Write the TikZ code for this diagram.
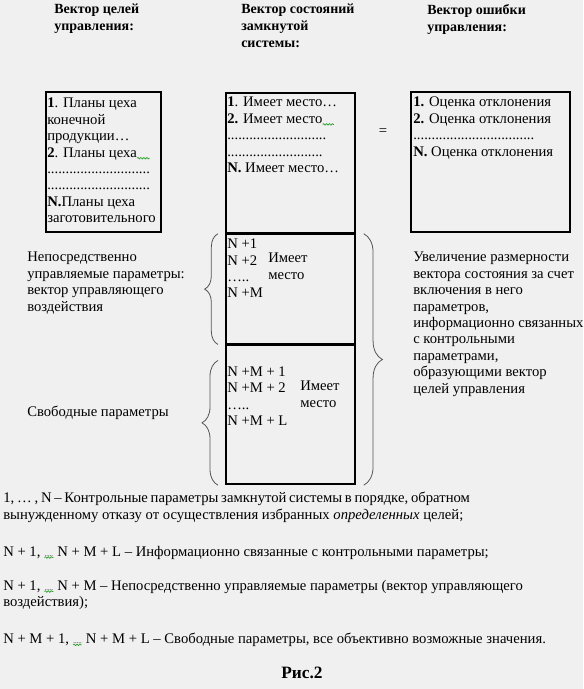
\documentclass[tikz,border=0pt]{standalone}
\usepackage{fontspec}
\setmainfont{Liberation Serif}
\usetikzlibrary{positioning,calc,backgrounds,decorations.pathreplacing,decorations.pathmorphing}
\definecolor{pagegray}{RGB}{240,240,240}
\definecolor{bracegray}{RGB}{85,85,85}
\definecolor{spellgreen}{RGB}{40,160,40}
\newcommand{\bodyfont}{\fontsize{11}{12.3}\selectfont}
\newcommand{\typo}[1]{\tikz[baseline=0pt]{\node[inner sep=0pt, anchor=base west, font=\tiny] (wave) {#1};
  \draw[spellgreen, line width=0.5pt, decorate, decoration={snake, amplitude=0.6pt, segment length=2.2pt}] ([yshift=-0.8pt]wave.base west) -- ([yshift=-0.8pt]wave.base east);}}
\tikzset{
  cell/.style={draw, line width=1.3pt, inner sep=0pt, anchor=north west},
  txt/.style={inner sep=0pt, anchor=north west, align=left, font=\bodyfont},
  head/.style={txt, font=\fontsize{10.5}{12.75}\selectfont\bfseries},
  curly/.style={decorate, decoration={brace, amplitude=#1}, draw=bracegray, line width=0.6pt},
}
\begin{document}
\begin{tikzpicture}[x=0.75pt, y=-0.75pt]
  \useasboundingbox[fill=pagegray] (0,0) rectangle (583,689);

  % column headers
  \node[head] (goalhead) at (54,4) {Вектор целей\\управления:};
  \node[head] (statehead) at (241,4) {Вектор состояний\\замкнутой\\системы:};
  \node[head] (errhead) at (427,4) {Вектор ошибки\\управления:};

  % boxes
  \node[cell, minimum width=86.25pt, minimum height=105pt] (goalbox) at (45,91) {};
  \node[cell, minimum width=96.75pt, minimum height=105pt] (statetop) at (225,92) {};
  \node[cell, minimum width=96.75pt, minimum height=81.75pt] (statemid) at (statetop.south west) {};
  \node[cell, minimum width=96.75pt, minimum height=104.25pt] (statebot) at (statemid.south west) {};
  \node[cell, minimum width=119.25pt, minimum height=105pt] (errbox) at (410,91) {};

  % box contents
  \node[txt, below right=5.25pt and 1.5pt of goalbox.north west] (goaltext) {\textbf{1}. Планы цеха\\конечной\\продукции…\\\textbf{2}. Планы цеха\typo{\hspace{9pt}}\\............................\\............................\\\textbf{N.}Планы цеха\\заготовительного};
  \node[txt, below right=3.75pt and 1.5pt of statetop.north west] (toptext) {\textbf{1}. Имеет место…\\\textbf{2.} Имеет место\typo{\hspace{8pt}}\\...........................\\..........................\\\textbf{N.} Имеет место…};
  \node[txt, below right=4.5pt and 2.25pt of errbox.north west] (errtext) {\textbf{1.} Оценка отклонения\\\textbf{2.} Оценка отклонения\\.................................\\\textbf{N.} Оценка отклонения};
  \node[txt, anchor=center] (eqsign) at (383,132) {=};

  \node[txt, below right=3.75pt and 1.5pt of statemid.north west] (midlist) {N +1\\N +2\\…..\\N +M};
  \node[txt] (midnote) at (268,253) {Имеет\\место};
  \node[txt, below right=16.5pt and 1.5pt of statebot.north west] (botlist) {N +M + 1\\N +M + 2\\…..\\N +M + L};
  \node[txt] (botnote) at (300,381) {Имеет\\место};

  % side labels
  \node[txt] (directlabel) at (27,252) {Непосредственно\\управляемые параметры:\\вектор управляющего\\воздействия};
  \node[txt] (freelabel) at (27,406) {Свободные параметры};
  \node[txt] (growlabel) at (413,252) {Увеличение размерности\\вектора состояния за счет\\включения в него\\параметров,\\информационно связанных\\с контрольными\\параметрами,\\образующими вектор\\целей управления};

  % braces
  \draw[curly=10pt] ($(statemid.south west)+(-7,0)$) -- ($(statemid.north west)+(-7,0)$);
  \draw[curly=12pt] ($(statebot.south west)+(-7,0)$) -- ($(statebot.north west)+(-7,16)$);
  \draw[curly=14pt] ($(statemid.north east)+(8,0)$) -- ($(statebot.south east)+(8,0)$);

  % notes below
  \node[txt] (note1) at (3,492) {\makebox[350pt][s]{1, … , N – Контрольные параметры замкнутой системы в порядке, обратном}\\вынужденному отказу от осуществления избранных \textit{определенных} целей;};
  \node[txt] (note2) at (3,546) {N + 1, \typo{.....} N + M + L – Информационно связанные с контрольными параметры;};
  \node[txt] (note3) at (3,580) {N + 1, \typo{.....} N + M – Непосредственно управляемые параметры (вектор управляющего\\воздействия);};
  \node[txt] (note4) at (3,633) {N + M + 1, \typo{.....} N + M + L – Свободные параметры, все объективно возможные значения.};
  \node[txt, anchor=center, font=\fontsize{13}{15}\selectfont\bfseries] (caption) at (302,673) {Рис.2};
\end{tikzpicture}
\end{document}
